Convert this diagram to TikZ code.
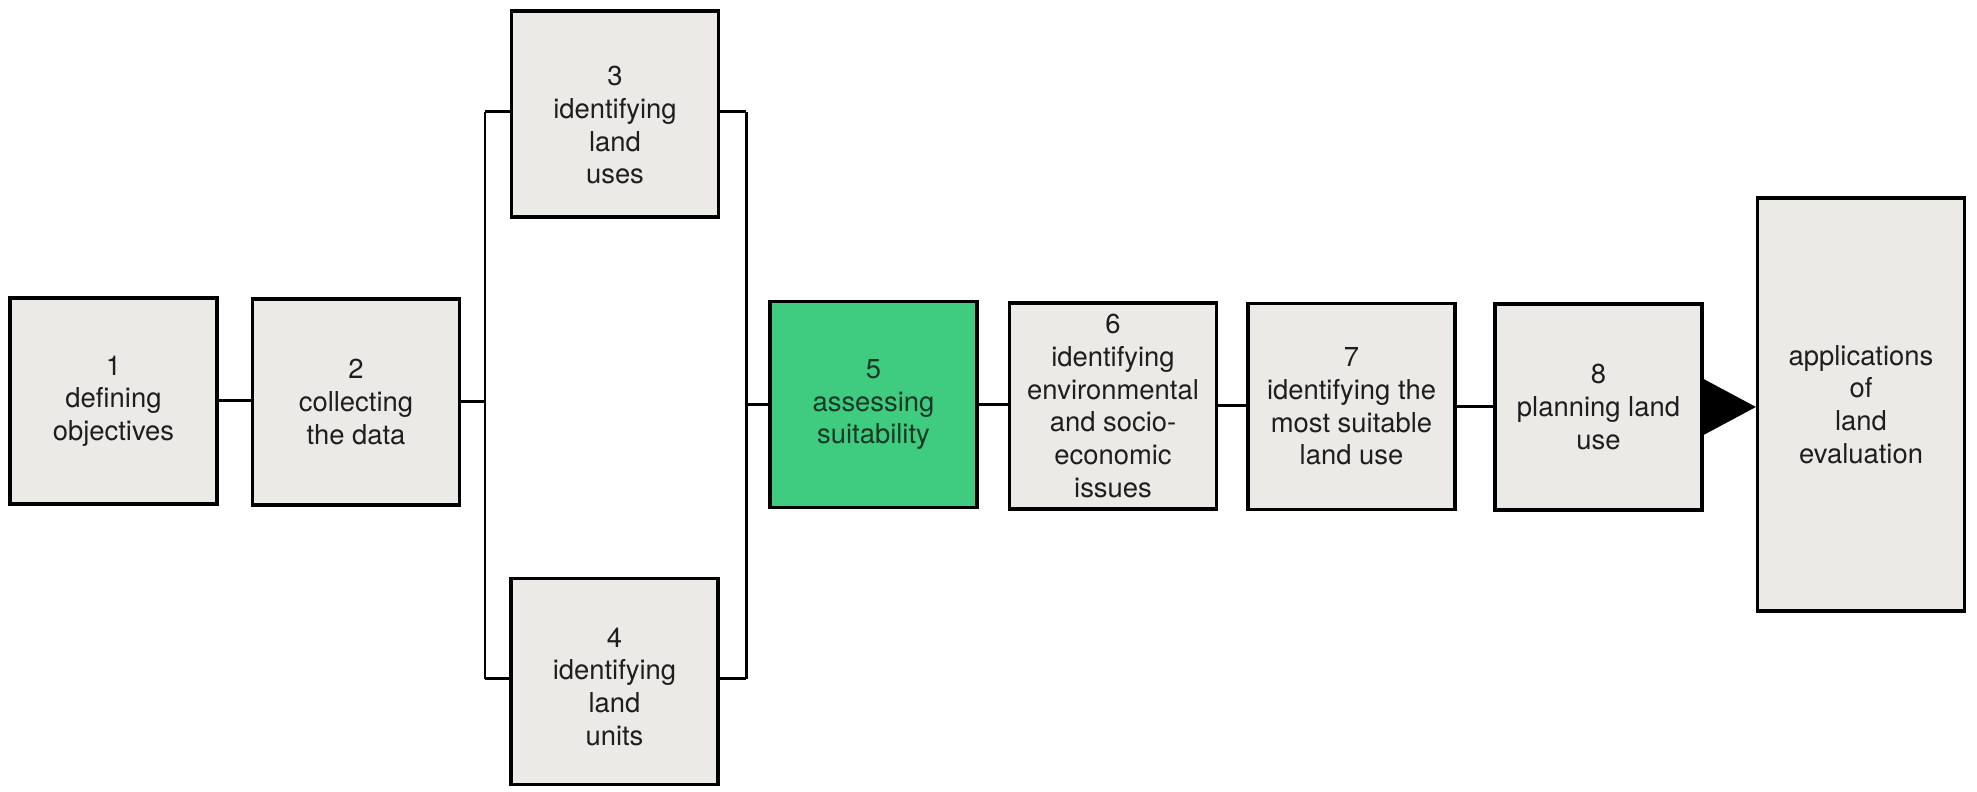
\documentclass[tikz,border=0pt]{standalone}
\usepackage{fontspec}
\setmainfont{TeX Gyre Heros}
\definecolor{boxgrey}{RGB}{236,234,230}
\definecolor{boxgreen}{RGB}{64,204,128}
\definecolor{txt}{RGB}{30,30,30}
\definecolor{greentxt}{RGB}{25,55,35}
\begin{document}
\begin{tikzpicture}[
  every node/.style={font=\fontsize{7.8}{9.3}\selectfont, text=txt},
  stepbox/.style={draw=black, line width=0.9pt, fill=boxgrey, align=center,
     inner sep=0pt, minimum width=2.07cm, minimum height=2.06cm},
  greenbox/.style={stepbox, fill=boxgreen, text=greentxt},
  link/.style={draw=black, line width=0.85pt}
]
\useasboundingbox[fill=white] (0,0) rectangle (19.77,7.92);
% nodes (y = 7.92 - pixel_y/100)
\node[stepbox] (b1) at (1.135,3.91) {1\\defining\\objectives};
\node[stepbox] (b2) at (3.56,3.90) {2\\collecting\\the data};
\node[stepbox] (b3) at (6.15,6.78) {\rule{0pt}{0.42cm}3\\identifying\\land\\uses};
\node[stepbox] (b4) at (6.145,1.105) {\rule{0pt}{0.3cm}4\\identifying\\land\\units};
\node[greenbox] (b5) at (8.735,3.875) {5\\assessing\\suitability};
\node[stepbox] (b6) at (11.13,3.86) {6\\identifying\\environmental\\and socio-\\economic\\issues};
\node[stepbox] (b7) at (13.515,3.855) {7\\identifying the\\most suitable\\land use};
\node[stepbox] (b8) at (15.985,3.85) {8\\planning land\\use};
\node[stepbox, minimum height=4.13cm] (b9) at (18.61,3.875) {applications\\of\\land\\evaluation};
% bus coordinates
\coordinate (lt) at (4.85,6.80);
\coordinate (lb) at (4.85,1.13);
\coordinate (rt) at (7.46,6.80);
\coordinate (rb) at (7.46,1.13);
% connectors
\draw[link] (b1.east) -- (b1.east -| b2.west);
\draw[link] (b2.east) -- (b2.east -| lt);
\draw[link] (lt) -- (lb);
\draw[link] (lt) -- (lt -| b3.west);
\draw[link] (lb) -- (lb -| b4.west);
\draw[link] (b3.east |- rt) -- (rt);
\draw[link] (b4.east |- rb) -- (rb);
\draw[link] (rt) -- (rb);
\draw[link] (b5.west -| rt) -- (b5.west);
\draw[link] (b5.east) -- (b5.east -| b6.west);
\draw[link] (b6.east) -- (b6.east -| b7.west);
\draw[link] (b7.east) -- (b7.east -| b8.west);
% arrow head into applications box
\coordinate (tip) at (b9.west |- b8.east);
\fill[black] ([yshift=0.28cm]b8.east) -- (tip) -- ([yshift=-0.28cm]b8.east) -- cycle;
\end{tikzpicture}
\end{document}
